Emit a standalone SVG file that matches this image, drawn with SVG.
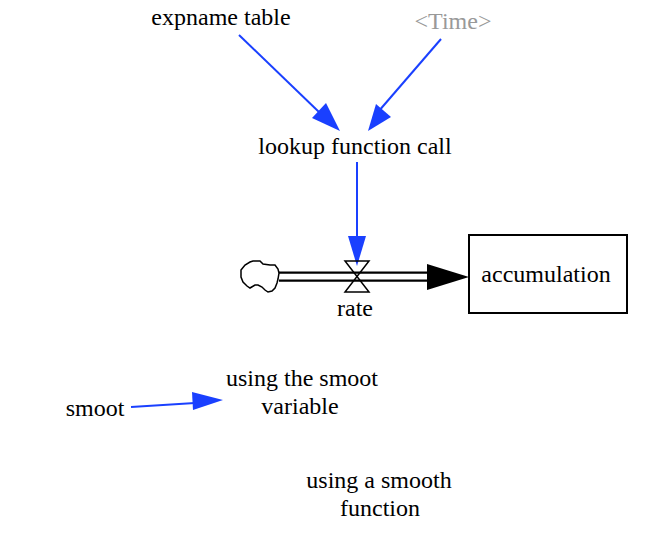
<svg xmlns="http://www.w3.org/2000/svg" width="672" height="552" viewBox="0 0 672 552">
<style>
text{font-family:"Liberation Serif","Times New Roman",serif;font-size:24px;fill:#000;text-anchor:middle}
.link{stroke:#1a40ff;stroke-width:2;fill:none}
.head{fill:#1a40ff;stroke:none}
.pipe{stroke:#000;stroke-width:2.2;fill:none}
</style>
<rect width="672" height="552" fill="#fff"/>
<g id="connectors">
<line class="link" x1="239" y1="35" x2="320" y2="113"/>
<polygon class="head" points="340,131 312,118 326,103"/>
<line class="link" x1="441" y1="39" x2="378" y2="112"/>
<polygon class="head" points="368,131 376,104 391,117"/>
<line class="link" x1="357" y1="162" x2="357" y2="240"/>
<polygon class="head" points="357,266 348,236 366,236"/>
<line class="link" x1="131" y1="407" x2="195" y2="403"/>
<polygon class="head" points="223,400 192,392 193,410"/>
<line class="pipe" x1="279" y1="272.700" x2="428" y2="272.700"/>
<line class="pipe" x1="279" y1="280.700" x2="428" y2="280.700"/>
<polygon points="469,277 427,264 427,290" fill="#000"/>
</g>
<g id="cloud">
<path d="M241,270 L245,265 L250,262 L253,261 L260,261 L263,264 L270,265 L275,265 L278,269 L279,273 L278,279 L277,283 L275,288 L272,291 L268,292 L265,290 L262,287 L258,285 L255,285 L250,288 L247,286 L243,282 L241,277 Z" fill="#fff" stroke="#000" stroke-width="1.500"/>
</g>
<g id="rate">
<polygon points="345,261 369,261 345,292 369,292" fill="none" stroke="#000" stroke-width="1.500"/>
<text x="355" y="316">rate</text>
</g>
<g id="accumulation">
<rect x="469" y="235" width="158" height="78" fill="#fff" stroke="#000" stroke-width="2"/>
<text x="546" y="282">accumulation</text>
</g>
<g id="expname-table"><text x="221" y="25">expname table</text></g>
<g id="time"><text x="453" y="29" style="fill:#999">&lt;Time&gt;</text></g>
<g id="lookup-function-call"><text x="355" y="154">lookup function call</text></g>
<g id="smoot"><text x="95" y="416">smoot</text></g>
<g id="using-the-smoot-variable"><text x="302" y="386">using the smoot</text><text x="300" y="414">variable</text></g>
<g id="using-a-smooth-function"><text x="379" y="488">using a smooth</text><text x="380" y="516">function</text></g>
</svg>
